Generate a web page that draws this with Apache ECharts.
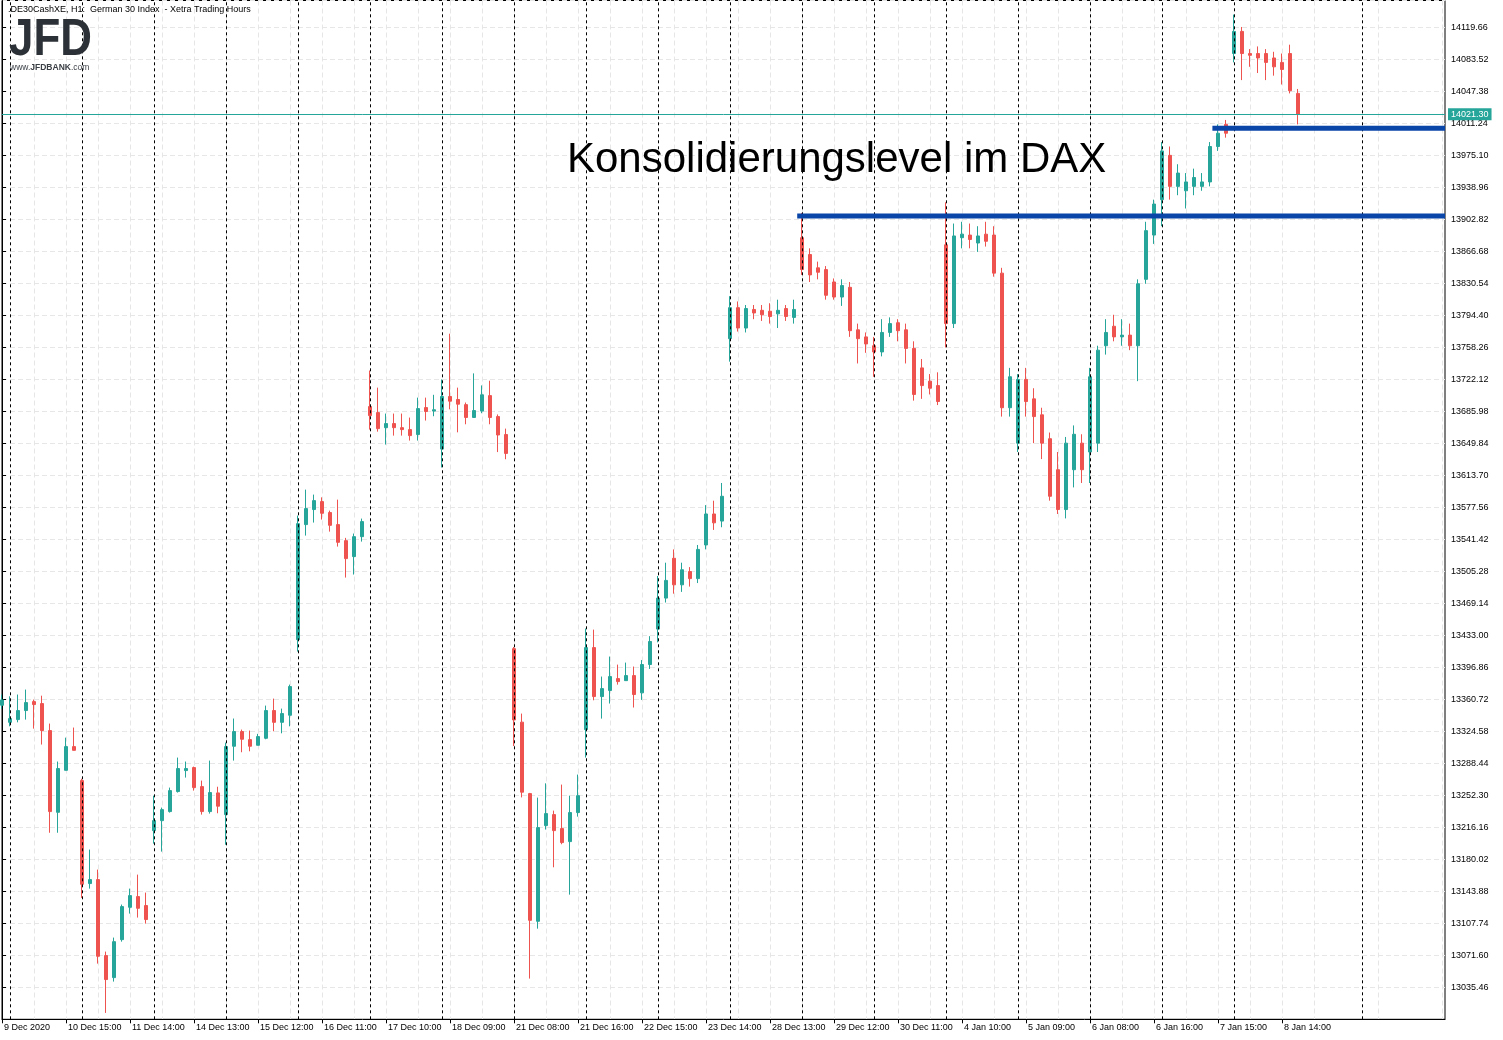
<!DOCTYPE html>
<html><head><meta charset="utf-8">
<script src="https://cdn.jsdelivr.net/npm/echarts@6/dist/echarts.min.js"></script>
<style>html,body{margin:0;padding:0;background:#fff}#c{width:1503px;height:1040px}</style>
</head><body><div id="c"></div>
<script>
// ---- data ----
const xLabels = ['9 Dec 2020','10 Dec 15:00','11 Dec 14:00','14 Dec 13:00','15 Dec 12:00','16 Dec 11:00','17 Dec 10:00','18 Dec 09:00','21 Dec 08:00','21 Dec 16:00','22 Dec 15:00','23 Dec 14:00','28 Dec 13:00','29 Dec 12:00','30 Dec 11:00','4 Jan 10:00','5 Jan 09:00','6 Jan 08:00','6 Jan 16:00','7 Jan 15:00','8 Jan 14:00'];
const labelEvery = 8;
const openP = [13354,13334.7,13337.8,13348.0,13358.1,13355.9,13325.4,13233.1,13280.5,13307.3,
13268.9,13152.6,13157.1,13071.3,13046.4,13089.3,13125.8,13137.9,13127.8,13212.4,
13223.7,13233.9,13256.5,13280.2,13283.6,13262.1,13233.9,13255.0,13230.5,13307.7,
13324.3,13315.2,13308.8,13316.7,13348.0,13334.7,13342.7,13428.1,13558.0,13575.0,
13584.0,13571.6,13558.0,13539.9,13521.9,13544.4,13691.3,13684.5,13667.5,13672.1,
13667.5,13665.3,13659.7,13690.2,13686.2,13643.3,13702.7,13699.3,13693.5,13679.0,
13686.2,13703.7,13680.0,13659.7,13417.9,13334.9,13254.2,13110.0,13218.1,13230.5,
13214.7,13200.0,13232.8,13326.5,13419.1,13363.8,13370.6,13384.1,13381.8,13387.5,
13368,13400,13440,13475,13520,13490,13505,13497,13535,13570,
13562,13768,13803,13780,13801,13800,13799,13796,13802,13792,
13882,13863,13848,13846,13832,13815,13826,13778,13770,13760,
13753,13775,13786,13778,13757,13735,13720,13715,13874,13785,
13882,13885,13876,13886,13885,13842,13690,13650,13722,13700,
13682,13655,13620,13575,13620,13650,13640,13650,13760,13782,
13770,13772,13760,13835,13885,13925,13975,13940,13935,13940,
13940,13945,13985,14010,14090,14115,14090,14090,14090,14085,
14080,14090,14045];
const highP = [13366,13364.1,13366.1,13371.7,13360.4,13364.8,13333.3,13290.4,13317.4,13328.8,
13271.0,13191.0,13168.4,13075.8,13091.6,13128.9,13146.9,13162.7,13142.4,13251.9,
13238.4,13261.0,13294.9,13290.4,13284.7,13268.9,13291.5,13262.0,13311.8,13339.0,
13326.5,13325.4,13321.7,13353.6,13361.5,13350.2,13377.3,13568.2,13597.5,13591.9,
13588.8,13573.8,13586.2,13543.0,13547.9,13564.8,13732.0,13712.7,13683.4,13683.4,
13683.4,13678.9,13701.4,13701.4,13704.6,13722.0,13773.6,13712.7,13695.9,13728.8,
13715.2,13720.5,13682.4,13666.4,13419.8,13344.6,13255.0,13249.7,13265.8,13235.0,
13264.4,13251.9,13275.7,13440.6,13439.4,13386.4,13409.0,13399.9,13402.2,13397.7,
13405,13432,13500,13515,13530,13515,13510,13535,13580,13585,
13605,13816,13810,13806,13806,13806,13808,13812,13806,13812,
13910,13870,13855,13850,13836,13835,13832,13785,13775,13770,
13790,13792,13790,13785,13765,13745,13728,13730,13922,13898,
13900,13898,13895,13900,13895,13848,13735,13728,13735,13712,
13690,13662,13640,13657,13670,13660,13735,13760,13790,13795,
13790,13785,13835,13900,13925,13990,13985,13965,13955,13960,
13955,13990,14010,14015,14134,14120,14095,14098,14095,14092,
14090,14100,14050];
const lowP = [13350,13330.2,13334.7,13337.8,13327.6,13309.6,13210.0,13210.0,13280.5,13303.1,
13136.4,13146.9,13062.2,13006.5,13041.9,13087.0,13118.7,13114.2,13107.4,13197.7,
13188.7,13232.8,13255.4,13272.3,13257.6,13230.5,13231.6,13232.0,13196.5,13291.5,
13300.9,13302.0,13308.8,13315.6,13324.6,13322.3,13330.2,13414.6,13545.6,13560.3,
13563.7,13550.1,13533.2,13498.2,13501.6,13538.8,13665.3,13663.0,13648.4,13658.5,
13658.5,13652.9,13652.9,13675.5,13680.4,13622.5,13688.2,13662.2,13671.3,13678.5,
13683.8,13671.3,13639.9,13631.8,13307.9,13249.9,13045.3,13101.7,13213.6,13171.0,
13197.0,13140.1,13228.2,13294.9,13359.6,13338.9,13355.9,13377.3,13381.8,13351.4,
13360,13395,13425,13470,13480,13482,13488,13492,13530,13552,
13555,13742,13776,13775,13790,13788,13785,13780,13788,13785,
13840,13832,13835,13812,13812,13805,13770,13740,13752,13725,
13748,13770,13765,13740,13698,13700,13705,13693,13758,13780,
13870,13870,13866,13872,13838,13680,13680,13640,13680,13650,
13632,13585,13570,13565,13600,13605,13605,13640,13750,13765,
13760,13755,13720,13830,13875,13895,13925,13930,13915,13930,
13935,13940,13980,13995,14080,14060,14075,14068,14060,14065,
14055,14045,14010];
const closeP = [13360,13338.9,13348.0,13357.0,13354.8,13325.4,13233.9,13282.5,13307.3,13303.1,
13151.8,13157.1,13070.5,13044.2,13087.0,13126.6,13139.0,13124.7,13112.0,13223.7,
13236.1,13257.6,13282.5,13282.5,13261.0,13233.9,13255.4,13240.0,13307.3,13324.3,
13315.6,13307.7,13318.6,13348.0,13334.7,13344.6,13375.1,13559.1,13576.1,13585.1,
13570.8,13557.2,13538.0,13519.6,13544.4,13561.4,13681.1,13666.4,13672.1,13667.5,
13665.3,13658.5,13689.0,13685.7,13687.7,13702.7,13697.4,13694.0,13679.0,13686.8,
13704.6,13679.0,13659.2,13638.4,13337.4,13255.8,13111.1,13215.8,13231.6,13212.4,
13198.9,13232.8,13251.9,13419.1,13363.8,13372.8,13386.4,13380.7,13387.5,13366.1,
13400,13426,13475,13495,13490,13507,13497,13530,13570,13560,
13590,13803,13780,13802,13797,13795,13793,13800,13793,13801,
13846,13840,13843,13817,13815,13828,13777,13768,13762,13753,
13775,13785,13777,13757,13705,13715,13712,13697,13785,13884,
13886,13880,13884,13878,13842,13690,13725,13722,13697,13680,
13650,13590,13575,13650,13660,13620,13725,13755,13775,13770,
13772,13760,13830,13890,13920,13980,13940,13955,13945,13950,
13945,13985,14000,14000,14115,14090,14088,14085,14080,14075,
14072,14048,14021.3];
const daySeparators = [1,10,19,28,37,46,55,64,73,82,91,100,109,118,127,136,145,154,170];
const lastPrice = 14021.30;
const levelLower = {from: 99.4, price: 13906.4};
const levelUpper = {from: 151.3, price: 14005.5};
const yTickStart = 12999.32, yTickStep = 36.14, yMax = 14149.9;
const xMax = 180.375;
const titleText = '.DE30CashXE, H1:  German 30 Index  - Xetra Trading Hours';
const noteText = 'Konsolidierungslevel im DAX';

// ---- chart ----
const UP = '#26a69a', DOWN = '#ef5350', BLUE = '#0a45a8';
const FONT = 'Liberation Sans';
const candles = openP.map((o, i) => [i, o, closeP[i], lowP[i], highP[i]]);
const labelIdx = xLabels.map((_, k) => k * labelEvery);
const gridLine = {show: true, lineStyle: {color: '#e6e6e6', type: [5, 3], width: 1}};

const chart = echarts.init(document.getElementById('c'), null, {renderer: 'canvas'});
chart.setOption({
  animation: false,
  backgroundColor: '#fff',
  grid: {left: 2, top: 0.5, right: 58, bottom: 20.7, show: true, borderColor: '#000', borderWidth: 1, containLabel: false},
  xAxis: {
    type: 'value', min: 0, max: xMax, interval: labelEvery,
    axisLine: {show: true, lineStyle: {color: '#000', width: 1}},
    axisTick: {show: true, length: 4, customValues: labelIdx, lineStyle: {color: '#000'}},
    axisLabel: {
      show: true, align: 'left', margin: 4, fontSize: 9, fontFamily: FONT, color: '#000',
      padding: [0, 0, 0, 2], customValues: labelIdx,
      formatter: v => xLabels[Math.round(v / labelEvery)] || ''
    },
    splitLine: gridLine,
    minorTick: {show: false, splitNumber: 2},
    minorSplitLine: gridLine
  },
  yAxis: {
    type: 'value', position: 'right', min: yTickStart, max: yMax, interval: yTickStep, scale: true,
    axisLine: {show: true, lineStyle: {color: '#000', width: 1}},
    axisTick: {show: true, length: 4, lineStyle: {color: '#000'}},
    axisLabel: {show: true, margin: 6, fontSize: 9, fontFamily: FONT, color: '#000',
      showMinLabel: false, showMaxLabel: false, formatter: v => v.toFixed(2)},
    splitLine: gridLine
  },
  series: [
    {
      type: 'candlestick', data: candles, encode: {x: 0, y: [1, 2, 3, 4]},
      barWidth: 4, clip: true,
      itemStyle: {color: UP, color0: DOWN, borderColor: UP, borderColor0: DOWN, borderWidth: 1},
      markLine: {
        silent: true, symbol: ['none', 'none'], animation: false,
        label: {show: false},
        data: daySeparators.map(i => ({xAxis: i, lineStyle: {color: '#000', type: [3, 3], width: 1}})).concat([
          {yAxis: lastPrice, lineStyle: {color: UP, type: 'solid', width: 1},
           label: {show: true, position: 'end', distance: 3, formatter: lastPrice.toFixed(2),
             backgroundColor: UP, color: '#fff', fontSize: 9, fontFamily: FONT, padding: [2, 3, 1, 3]}}
        ])
      }
    },
    {type: 'line', data: [[levelLower.from, levelLower.price], [xMax, levelLower.price]], symbol: 'none',
     lineStyle: {color: BLUE, width: 5}, z: 5, silent: true},
    {type: 'line', data: [[levelUpper.from, levelUpper.price], [xMax, levelUpper.price]], symbol: 'none',
     lineStyle: {color: BLUE, width: 5}, z: 5, silent: true}
  ],
  graphic: [
    {type: 'text', x: 8, y: 10, z: 10, style: {text: titleText, font: '9px ' + FONT, fill: '#000', verticalAlign: 'middle'}},
    {type: 'text', x: 9, y: 41, scaleX: 0.86, z: 10, style: {text: 'JFD', font: 'bold 51px ' + FONT, fill: '#2b3137', verticalAlign: 'middle'}},
    {type: 'text', x: 10, y: 68, z: 10, style: {text: '{a|www.}{b|JFDBANK}{a|.com}', verticalAlign: 'middle',
      rich: {a: {font: '8.5px ' + FONT, fill: '#3a3f45'}, b: {font: 'bold 8.5px ' + FONT, fill: '#3a3f45'}}}},
    {type: 'text', x: 567, y: 160, z: 10, style: {text: noteText, font: '42px ' + FONT, fill: '#000', verticalAlign: 'middle'}}
  ]
});
</script></body></html>
